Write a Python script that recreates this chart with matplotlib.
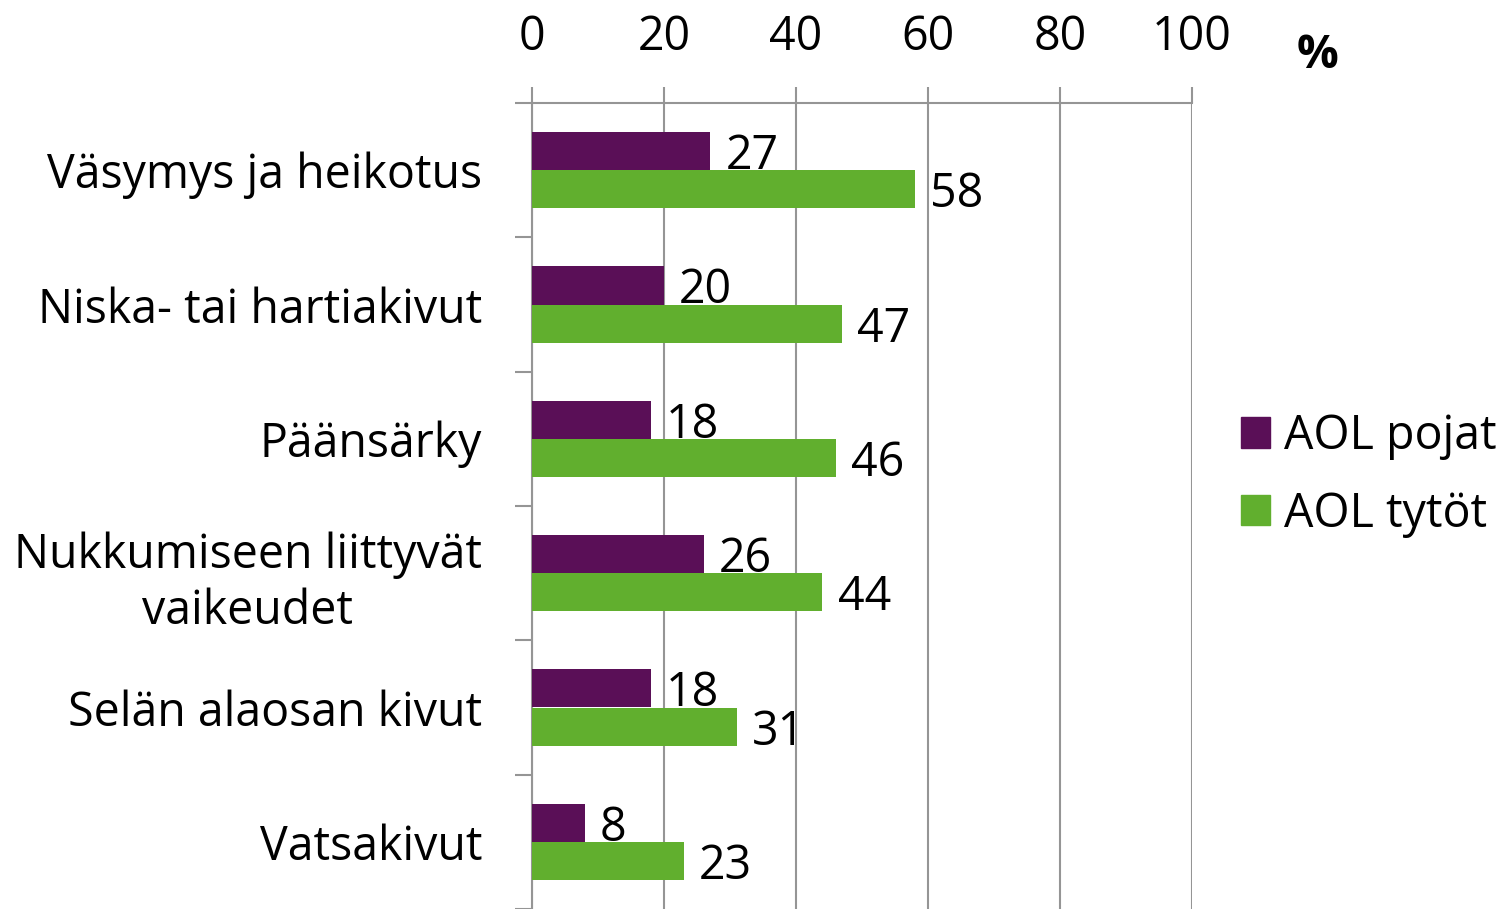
import matplotlib
matplotlib.use("Agg")
import matplotlib.pyplot as plt
from matplotlib.patches import Patch
import numpy as np

categories = ["Väsymys ja heikotus", "Niska- tai hartiakivut", "Päänsärky",
              "Nukkumiseen liittyvät\nvaikeudet", "Selän alaosan kivut", "Vatsakivut"]
pojat = [27, 20, 18, 26, 18, 8]
tytot = [58, 47, 46, 44, 31, 23]
series_names = ["AOL pojat", "AOL tytöt"]
xticks = [0, 20, 40, 60, 80, 100]

PURPLE = "#5A0F57"
GREEN = "#61AF2E"
GRID = "#959595"
FS = 33.5

plt.rcParams['font.family'] = ['Open Sans', 'DejaVu Sans']

fig = plt.figure(figsize=(15.03, 9.09), dpi=100)
ax = fig.add_axes([532/1503, 0.0, (1192-532)/1503, 1 - 103/909])

y = np.arange(len(categories))
h = 0.285
ax.barh(y - h/2, pojat, height=h, color=PURPLE, zorder=3)
ax.barh(y + h/2, tytot, height=h, color=GREEN, zorder=3)

for yi, v in zip(y, pojat):
    ax.text(v + 2.3, yi - h/2 + 0.04, str(v), va='center', ha='left', fontsize=FS, zorder=4)
for yi, v in zip(y, tytot):
    ax.text(v + 2.3, yi + h/2 + 0.04, str(v), va='center', ha='left', fontsize=FS, zorder=4)

ax.set_xlim(0, 100)
ax.set_ylim(len(categories) - 0.5, -0.5)
ax.set_xticks(xticks)
ax.xaxis.tick_top()
ax.tick_params(axis='x', direction='out', length=11.5, width=1.5, color=GRID,
               labelsize=FS, pad=19)
ax.grid(axis='x', color=GRID, linewidth=1.5, zorder=0)

ax.set_yticks(y)
ax.set_yticklabels(categories, fontsize=FS, multialignment='center', linespacing=1.25)
ax.set_yticks(np.arange(-0.5, len(categories)), minor=True)
ax.tick_params(axis='y', which='major', length=0, pad=36)
ax.tick_params(axis='y', which='minor', length=12, width=1.5, color=GRID)

for s in ['right', 'bottom']:
    ax.spines[s].set_visible(False)
for s in ['top', 'left']:
    ax.spines[s].set_color(GRID)
    ax.spines[s].set_linewidth(1.5)

fig.text(1318/1503, 1 - 55/909, "%", fontsize=FS, fontweight='bold', ha='center', va='center')

handles = [Patch(color=PURPLE), Patch(color=GREEN)]
fig.legend(handles, series_names, loc='center left', bbox_to_anchor=(1241/1503, 1 - 475/909),
           frameon=False, fontsize=FS, handlelength=0.62, handleheight=0.62,
           handletextpad=0.3, labelspacing=0.65, borderaxespad=0, borderpad=0)

fig.savefig("out.png", dpi=100)
